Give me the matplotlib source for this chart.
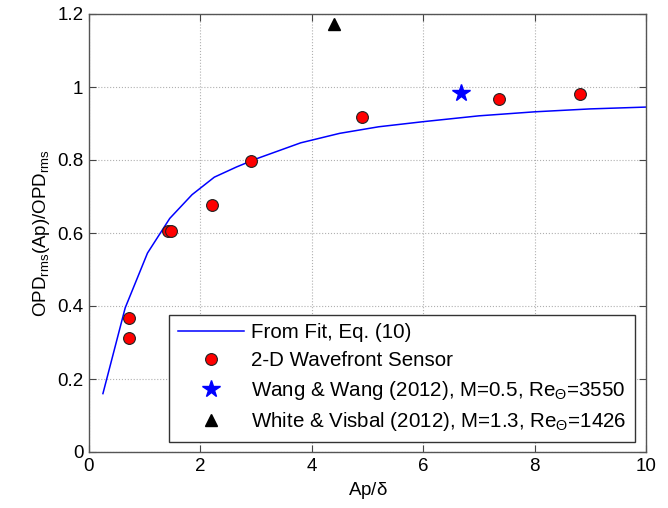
import matplotlib
matplotlib.use("Agg")
import matplotlib.pyplot as plt

plt.rcParams['font.family'] = ['Liberation Sans', 'DejaVu Sans']
plt.rcParams['mathtext.fontset'] = 'custom'
plt.rcParams['mathtext.rm'] = 'Liberation Sans'
plt.rcParams['mathtext.it'] = 'Liberation Sans'

# Fit curve
fit_x = [0.25, 0.65, 1.05, 1.45, 1.85, 2.25, 2.65, 3.0, 3.8, 4.5, 5.2, 6.0, 7.0, 8.0, 9.0, 10.0]
fit_y = [0.16, 0.395, 0.545, 0.64, 0.705, 0.753, 0.781, 0.803, 0.847, 0.873, 0.891, 0.905, 0.921, 0.932, 0.940, 0.945]

# 2-D wavefront sensor data
wfs_x = [0.71, 0.72, 1.42, 1.47, 2.21, 2.91, 4.90, 7.36, 8.82]
wfs_y = [0.312, 0.367, 0.605, 0.605, 0.677, 0.798, 0.918, 0.968, 0.980]

wang_x = [6.68]
wang_y = [0.984]

white_x = [4.39]
white_y = [1.172]

labels = ["From Fit, Eq. (10)",
          "2-D Wavefront Sensor",
          r"Wang & Wang (2012), M=0.5, Re$_{\Theta}$=3550",
          r"White & Visbal (2012), M=1.3, Re$_{\Theta}$=1426"]

fig = plt.figure(figsize=(6.68, 5.08), dpi=100)
ax = fig.add_axes([89/668, 1 - 452/508, (646 - 89)/668, (452 - 14)/508])

ax.plot(fit_x, fit_y, color='#0000ff', lw=1.1, label=labels[0])
ax.plot(wfs_x, wfs_y, 'o', ms=8.5, mfc='#ff0000', mec='#222222', mew=0.8, label=labels[1], ls='none')
ax.plot(wang_x, wang_y, '*', ms=13, mfc='#0000ff', mec='#0000ff', label=labels[2], ls='none')
ax.plot(white_x, white_y, '^', ms=8, mfc='black', mec='black', label=labels[3], ls='none')

ax.set_xlim(0, 10)
ax.set_ylim(0, 1.2)
ax.set_xticks([0, 2, 4, 6, 8, 10])
ax.set_yticks([0, 0.2, 0.4, 0.6, 0.8, 1.0, 1.2])
ax.set_yticklabels(['0', '0.2', '0.4', '0.6', '0.8', '1', '1.2'])
ax.grid(True, ls=':', color='#b0b0b0', lw=0.8)
ax.tick_params(direction='in', top=True, right=True, labelsize=13.5, length=5, color='#444444', pad=4)
for s in ax.spines.values():
    s.set_color('#555555')
    s.set_linewidth(1.0)

ax.set_xlabel(r"Ap/$\delta$", fontsize=13.5)
ax.set_ylabel(r"OPD$_{\mathrm{rms}}$(Ap)/OPD$_{\mathrm{rms}}$", fontsize=13.5)

leg = ax.legend(loc='lower right', fontsize=14.8, frameon=True, fancybox=False,
                edgecolor='#333333', framealpha=1,
                handlelength=3.2, handletextpad=0.35, labelspacing=0.42, borderpad=0.42,
                borderaxespad=0.0,
                bbox_to_anchor=((635 - 89) / 557, (452 - 442) / 438),
                bbox_transform=ax.transAxes)
leg.get_frame().set_linewidth(1.0)

fig.savefig("out.png", dpi=100)
